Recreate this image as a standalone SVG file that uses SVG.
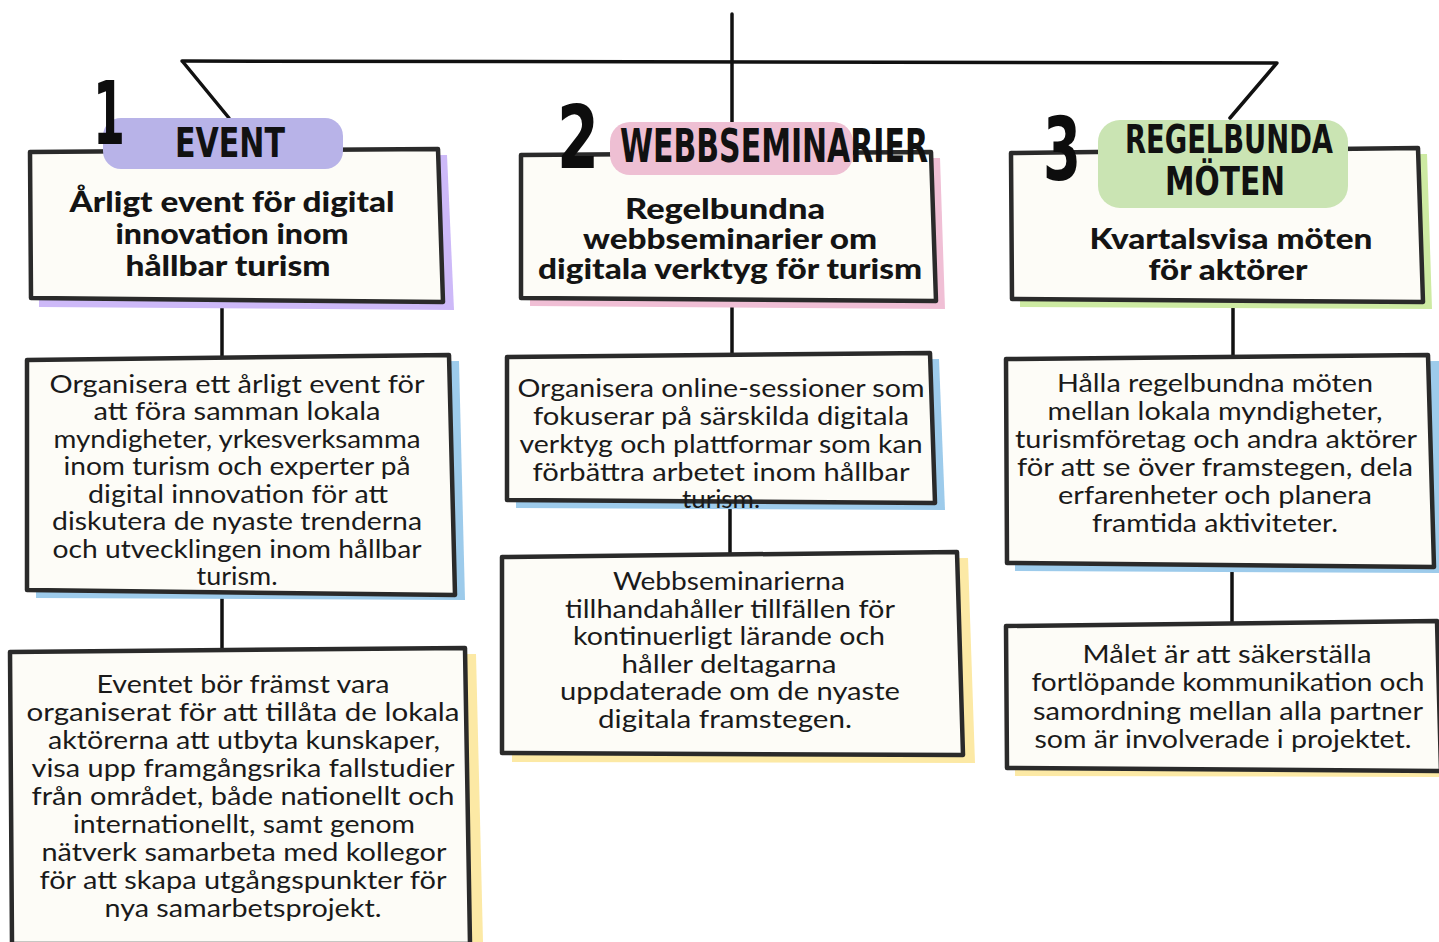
<svg xmlns="http://www.w3.org/2000/svg" width="1439" height="942" viewBox="0 0 1439 942">
<style>
.box{fill:#fdfcf7;stroke:#2a2a2a;stroke-width:4.5;stroke-linejoin:round}
.conn{stroke:#111;stroke-width:3.5;fill:none;stroke-linecap:round}
.body{font-family:Lato,"Noto Sans",sans-serif;font-size:25px;fill:#1a1a1a;text-anchor:middle}
.title{font-family:Lato,"Noto Sans",sans-serif;font-weight:900;font-size:29px;fill:#141414;text-anchor:middle}
.hand{font-family:"Liberation Sans Narrow","DejaVu Sans Condensed","Roboto Condensed",sans-serif;font-weight:bold;fill:#111}
.num{font-family:"DejaVu Sans",Lato,sans-serif;font-weight:900;font-size:88px;fill:#0d0d0d}
</style>
<rect width="1439" height="942" fill="#ffffff"/>
<g id="connectors">
<line class="conn" x1="732" y1="14" x2="732" y2="125"/>
<path class="conn" d="M182,61 L1277,63"/>
<path class="conn" d="M183,62 L229,118"/>
<path class="conn" d="M1276,64 L1230,118"/>
<line class="conn" x1="222" y1="302" x2="222" y2="358"/>
<line class="conn" x1="222" y1="598" x2="222" y2="650"/>
<line class="conn" x1="732" y1="302" x2="732" y2="355"/>
<line class="conn" x1="730" y1="503" x2="730" y2="553"/>
<line class="conn" x1="1233" y1="302" x2="1233" y2="356"/>
<line class="conn" x1="1232" y1="570" x2="1232" y2="624"/>
</g>
<g id="event-header">
<path d="M39,158 L447,155 L454,310 L39,307 Z" fill="#cdb9f8"/>
<path class="box" d="M30,152 L438,149 L443,302 L31,298 Z"/>
<rect x="103" y="118" width="240" height="51" rx="18" fill="#b8b3e8"/>
<text class="num" x="93" y="144" textLength="32" lengthAdjust="spacingAndGlyphs">1</text>
<text class="hand" x="175" y="157" font-size="41" textLength="110" lengthAdjust="spacingAndGlyphs">EVENT</text>
<text class="title" x="232" y="212" textLength="325" lengthAdjust="spacingAndGlyphs">Årligt event för digital</text>
<text class="title" x="232" y="244" textLength="233" lengthAdjust="spacingAndGlyphs">innovation inom</text>
<text class="title" x="228" y="276" textLength="205" lengthAdjust="spacingAndGlyphs">hållbar turism</text>
</g>
<g id="event-desc">
<path d="M36,366 L459,361 L465,600 L36,598 Z" fill="#9dcbeb"/>
<path class="box" d="M27,360 L449,355 L455,595 L27,590 Z"/>
<text class="body" x="237" y="393" textLength="375" lengthAdjust="spacingAndGlyphs">Organisera ett årligt event för</text>
<text class="body" x="237" y="420" textLength="287" lengthAdjust="spacingAndGlyphs">att föra samman lokala</text>
<text class="body" x="237" y="448" textLength="367" lengthAdjust="spacingAndGlyphs">myndigheter, yrkesverksamma</text>
<text class="body" x="237" y="475" textLength="347" lengthAdjust="spacingAndGlyphs">inom turism och experter på</text>
<text class="body" x="238" y="503" textLength="300" lengthAdjust="spacingAndGlyphs">digital innovation för att</text>
<text class="body" x="237" y="530" textLength="370" lengthAdjust="spacingAndGlyphs">diskutera de nyaste trenderna</text>
<text class="body" x="237" y="558" textLength="369" lengthAdjust="spacingAndGlyphs">och utvecklingen inom hållbar</text>
<text class="body" x="237" y="585" textLength="81" lengthAdjust="spacingAndGlyphs">turism.</text>
</g>
<g id="event-detail">
<path d="M20,657 L476,654 L483,942 L20,942 Z" fill="#fce9a5"/>
<path class="box" d="M10,652 L465,648 L470,944 L12,944 Z"/>
<text class="body" x="243" y="693" textLength="293" lengthAdjust="spacingAndGlyphs">Eventet bör främst vara</text>
<text class="body" x="243" y="721" textLength="433" lengthAdjust="spacingAndGlyphs">organiserat för att tillåta de lokala</text>
<text class="body" x="244" y="749" textLength="392" lengthAdjust="spacingAndGlyphs">aktörerna att utbyta kunskaper,</text>
<text class="body" x="243" y="777" textLength="423" lengthAdjust="spacingAndGlyphs">visa upp framgångsrika fallstudier</text>
<text class="body" x="243" y="805" textLength="423" lengthAdjust="spacingAndGlyphs">från området, både nationellt och</text>
<text class="body" x="244" y="833" textLength="342" lengthAdjust="spacingAndGlyphs">internationellt, samt genom</text>
<text class="body" x="244" y="861" textLength="405" lengthAdjust="spacingAndGlyphs">nätverk samarbeta med kollegor</text>
<text class="body" x="243" y="889" textLength="407" lengthAdjust="spacingAndGlyphs">för att skapa utgångspunkter för</text>
<text class="body" x="243" y="917" textLength="277" lengthAdjust="spacingAndGlyphs">nya samarbetsprojekt.</text>
</g>
<g id="webb-header">
<path d="M530,160 L940,158 L945,309 L530,306 Z" fill="#f0bfd5"/>
<path class="box" d="M521,155 L931,152 L936,301 L521,298 Z"/>
<rect x="610" y="122" width="243" height="53" rx="20" fill="#eebfd3"/>
<text class="num" x="557" y="168" textLength="42" lengthAdjust="spacingAndGlyphs">2</text>
<text class="hand" x="620" y="162" font-size="46" textLength="308" lengthAdjust="spacingAndGlyphs">WEBBSEMINARIER</text>
<text class="title" x="725" y="219" textLength="200" lengthAdjust="spacingAndGlyphs">Regelbundna</text>
<text class="title" x="730" y="249" textLength="294" lengthAdjust="spacingAndGlyphs">webbseminarier om</text>
<text class="title" x="730" y="279" textLength="384" lengthAdjust="spacingAndGlyphs">digitala verktyg för turism</text>
</g>
<g id="webb-desc">
<path d="M516,363 L939,359 L945,510 L516,508 Z" fill="#9dcbeb"/>
<path class="box" d="M507,357 L930,353 L935,503 L507,500 Z"/>
<text class="body" x="721" y="397" textLength="407" lengthAdjust="spacingAndGlyphs">Organisera online-sessioner som</text>
<text class="body" x="721" y="425" textLength="376" lengthAdjust="spacingAndGlyphs">fokuserar på särskilda digitala</text>
<text class="body" x="721" y="453" textLength="403" lengthAdjust="spacingAndGlyphs">verktyg och plattformar som kan</text>
<text class="body" x="721" y="481" textLength="377" lengthAdjust="spacingAndGlyphs">förbättra arbetet inom hållbar</text>
<text class="body" x="721" y="508" textLength="78" lengthAdjust="spacingAndGlyphs">turism.</text>
</g>
<g id="webb-detail">
<path d="M512,562 L968,558 L975,763 L512,762 Z" fill="#fce9a5"/>
<path class="box" d="M502,557 L957,552 L963,755 L502,753 Z"/>
<text class="body" x="729" y="590" textLength="232" lengthAdjust="spacingAndGlyphs">Webbseminarierna</text>
<text class="body" x="730" y="618" textLength="330" lengthAdjust="spacingAndGlyphs">tillhandahåller tillfällen för</text>
<text class="body" x="729" y="645" textLength="312" lengthAdjust="spacingAndGlyphs">kontinuerligt lärande och</text>
<text class="body" x="729" y="673" textLength="215" lengthAdjust="spacingAndGlyphs">håller deltagarna</text>
<text class="body" x="730" y="700" textLength="340" lengthAdjust="spacingAndGlyphs">uppdaterade om de nyaste</text>
<text class="body" x="725" y="728" textLength="254" lengthAdjust="spacingAndGlyphs">digitala framstegen.</text>
</g>
<g id="moten-header">
<path d="M1020,158 L1427,154 L1432,309 L1020,307 Z" fill="#cdeaa2"/>
<path class="box" d="M1011,153 L1418,148 L1423,302 L1012,299 Z"/>
<rect x="1098" y="120" width="250" height="88" rx="22" fill="#cae4b3"/>
<text class="num" x="1043" y="180" textLength="38" lengthAdjust="spacingAndGlyphs">3</text>
<text class="hand" x="1125" y="153" font-size="39" textLength="208" lengthAdjust="spacingAndGlyphs">REGELBUNDA</text>
<text class="hand" x="1165" y="195" font-size="39" textLength="120" lengthAdjust="spacingAndGlyphs">MÖTEN</text>
<text class="title" x="1231" y="249" textLength="283" lengthAdjust="spacingAndGlyphs">Kvartalsvisa möten</text>
<text class="title" x="1228" y="280" textLength="159" lengthAdjust="spacingAndGlyphs">för aktörer</text>
</g>
<g id="moten-desc">
<path d="M1015,364 L1439,361 L1439,573 L1015,571 Z" fill="#9dcbeb"/>
<path class="box" d="M1006,359 L1428,355 L1434,567 L1007,563 Z"/>
<text class="body" x="1215" y="392" textLength="316" lengthAdjust="spacingAndGlyphs">Hålla regelbundna möten</text>
<text class="body" x="1215" y="420" textLength="335" lengthAdjust="spacingAndGlyphs">mellan lokala myndigheter,</text>
<text class="body" x="1216" y="448" textLength="402" lengthAdjust="spacingAndGlyphs">turismföretag och andra aktörer</text>
<text class="body" x="1215" y="476" textLength="396" lengthAdjust="spacingAndGlyphs">för att se över framstegen, dela</text>
<text class="body" x="1215" y="504" textLength="314" lengthAdjust="spacingAndGlyphs">erfarenheter och planera</text>
<text class="body" x="1215" y="532" textLength="246" lengthAdjust="spacingAndGlyphs">framtida aktiviteter.</text>
</g>
<g id="moten-detail">
<path d="M1015,631 L1439,628 L1439,777 L1015,776 Z" fill="#fce9a5"/>
<path class="box" d="M1006,626 L1437,621 L1441,771 L1007,768 Z"/>
<text class="body" x="1227" y="663" textLength="289" lengthAdjust="spacingAndGlyphs">Målet är att säkerställa</text>
<text class="body" x="1228" y="691" textLength="393" lengthAdjust="spacingAndGlyphs">fortlöpande kommunikation och</text>
<text class="body" x="1228" y="720" textLength="390" lengthAdjust="spacingAndGlyphs">samordning mellan alla partner</text>
<text class="body" x="1223" y="748" textLength="377" lengthAdjust="spacingAndGlyphs">som är involverade i projektet.</text>
</g>
</svg>
